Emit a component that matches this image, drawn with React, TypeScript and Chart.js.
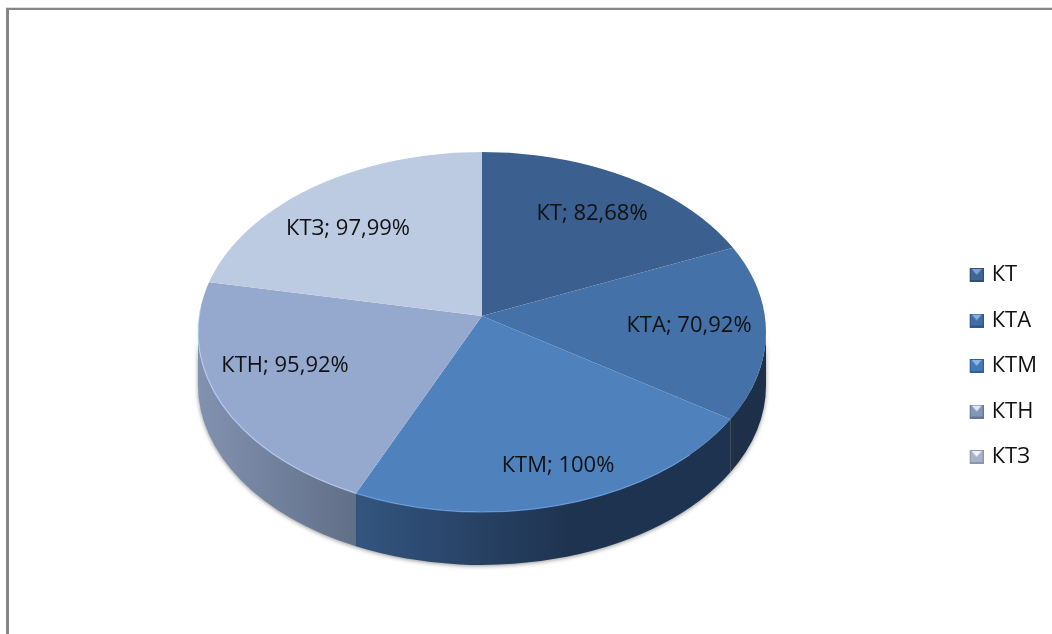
import React, { useEffect, useRef } from "react";
import { Chart, registerables } from "chart.js";

Chart.register(...registerables);

const categories = ["КТ", "КТА", "КТМ", "КТН", "КТЗ"];
const seriesValues = [82.68, 70.92, 100, 95.92, 97.99];
const valueText = ["82,68%", "70,92%", "100%", "95,92%", "97,99%"];
const sliceColors = ["#3b5f8e", "#4472a8", "#4f81bd", "#95a9cf", "#bccae2"];
const markerColors = [
  ["#2f4e78", "#3f6594", "#7ea3d2"],
  ["#2f5688", "#3f6da4", "#86aede"],
  ["#30609c", "#4478b6", "#8ab6ea"],
  ["#667796", "#8496b8", "#dfe7f5"],
  ["#8b96ab", "#a7b3c9", "#eef2f9"],
];
const labelCenters = [
  [592, 214],
  [689, 326],
  [558, 466],
  [285, 366],
  [348, 229],
];

const FONT = '"Open Sans", sans-serif';
const APEX_X = 482;
const APEX_Y = 316;
const RAY_RY = 178;
const RX = 284;
const RY = 180;
const CY = 332;
const WALL = 53;

function makeMarker(c: string[]) {
  const cv = document.createElement("canvas");
  cv.width = 19;
  cv.height = 14;
  const g = cv.getContext("2d")!;
  g.translate(5, 0);
  g.fillStyle = c[0];
  g.fillRect(0, 0, 14, 14);
  g.fillStyle = c[1];
  g.fillRect(1, 1, 12, 11);
  g.fillStyle = c[2];
  g.beginPath();
  g.moveTo(2, 1);
  g.lineTo(12, 1);
  g.lineTo(7, 7);
  g.closePath();
  g.fill();
  return cv;
}

// Where a ray leaving the apex at a chart angle meets the tilted rim; returns the ellipse parameter.
function rimParam(angle: number) {
  const ax = Math.cos(angle) * RX;
  const ay = Math.sin(angle) * RAY_RY;
  const ox = 0;
  const oy = APEX_Y - CY;
  const A = (ax * ax) / (RX * RX) + (ay * ay) / (RY * RY);
  const B = 2 * ((ox * ax) / (RX * RX) + (oy * ay) / (RY * RY));
  const C = (ox * ox) / (RX * RX) + (oy * oy) / (RY * RY) - 1;
  const s = (-B + Math.sqrt(B * B - 4 * A * C)) / (2 * A);
  return Math.atan2((oy + ay * s) / RY, (ox + ax * s) / RX);
}

const piePlugin = {
  id: "tiltedPie",
  beforeDraw(chart: any) {
    const { ctx } = chart;
    ctx.save();
    ctx.fillStyle = "#ffffff";
    ctx.fillRect(0, 0, chart.width, chart.height);
    ctx.fillStyle = "#dedede";
    ctx.fillRect(6, 7, chart.width - 6, 1);
    ctx.fillStyle = "#868686";
    ctx.fillRect(6, 8, chart.width - 6, 2);
    ctx.fillRect(6, 8, 3, chart.height - 8);
    ctx.restore();
  },
  beforeDatasetsDraw(chart: any) {
    const { ctx } = chart;
    const arcs = chart.getDatasetMeta(0).data;

    const wallFill = (i: number) => {
      if (i === 3) {
        const g = ctx.createLinearGradient(198, 0, 358, 0);
        g.addColorStop(0, "#8192b0");
        g.addColorStop(1, "#616e87");
        return g;
      }
      if (i === 2) {
        const g = ctx.createLinearGradient(358, 0, 570, 0);
        g.addColorStop(0, "#33557f");
        g.addColorStop(1, "#1e3350");
        return g;
      }
      return "#1e3049";
    };

    arcs.forEach((arc: any, i: number) => {
      let t0 = rimParam(arc.startAngle);
      let t1 = rimParam(arc.endAngle);
      if (t1 < t0) t1 += Math.PI * 2;
      const a = Math.max(t0, 0);
      const b = Math.min(t1, Math.PI);
      const wrapped = t0 < -Math.PI / 2 && t1 > Math.PI;
      if (b <= a || wrapped) return;
      ctx.save();
      ctx.shadowColor = "rgba(60,60,60,0.55)";
      ctx.shadowBlur = 4;
      ctx.shadowOffsetY = 1;
      ctx.fillStyle = wallFill(i);
      ctx.beginPath();
      ctx.ellipse(APEX_X, CY, RX, RY, 0, a, b);
      ctx.ellipse(APEX_X, CY + WALL, RX, RY, 0, b, a, true);
      ctx.closePath();
      ctx.fill();
      ctx.restore();
    });

    ctx.save();
    ctx.beginPath();
    ctx.ellipse(APEX_X, CY, RX, RY, 0, 0, Math.PI * 2);
    ctx.clip();
    arcs.forEach((arc: any) => {
      ctx.save();
      const k = 1.3 / arc.outerRadius;
      ctx.translate(APEX_X, APEX_Y);
      ctx.scale(RX * k, RAY_RY * k);
      ctx.translate(-arc.x, -arc.y);
      arc.draw(ctx);
      ctx.restore();
    });
    ctx.restore();

    // Light rim along the front edge of the top face.
    ctx.save();
    ctx.lineWidth = 1.2;
    ctx.strokeStyle = "rgba(190,215,250,0.7)";
    ctx.beginPath();
    ctx.ellipse(APEX_X, CY, RX, RY, 0, rimParam(arcs[2].endAngle), Math.PI + 0.12);
    ctx.stroke();
    ctx.strokeStyle = "rgba(110,160,225,0.8)";
    ctx.beginPath();
    ctx.ellipse(APEX_X, CY, RX, RY, 0, 0.75, rimParam(arcs[2].endAngle));
    ctx.stroke();
    ctx.restore();

    ctx.save();
    ctx.font = `22px ${FONT}`;
    ctx.fillStyle = "#111111";
    ctx.textAlign = "center";
    ctx.textBaseline = "middle";
    categories.forEach((name, i) => {
      ctx.fillText(`${name}; ${valueText[i]}`, labelCenters[i][0], labelCenters[i][1]);
    });
    ctx.restore();
    return false;
  },
};

export default function App() {
  const ref = useRef<HTMLCanvasElement>(null);
  useEffect(() => {
    const markers = markerColors.map(makeMarker);
    const chart = new Chart(ref.current!, {
      type: "pie",
      data: {
        labels: categories,
        datasets: [{ data: seriesValues, backgroundColor: sliceColors, borderWidth: 0 }],
      },
      options: {
        responsive: false,
        animation: false,
        events: [],
        layout: { padding: { top: 98, right: 5 } },
        plugins: {
          tooltip: { enabled: false },
          legend: {
            position: "right",
            labels: {
              usePointStyle: true,
              boxWidth: 13,
              boxHeight: 13,
              padding: 23.5,
              color: "#111111",
              font: { family: FONT, size: 22 },
              generateLabels(c: any) {
                return Chart.overrides.pie.plugins.legend.labels
                  .generateLabels(c)
                  .map((l: any, i: number) => ({ ...l, pointStyle: markers[i] }));
              },
            },
          },
        },
      } as any,
      plugins: [piePlugin as any],
    });
    return () => chart.destroy();
  }, []);
  return (
    <div style={{ position: "fixed", left: 0, top: 0, width: 1052, height: 634 }}>
      <canvas ref={ref} width={1052} height={634} style={{ display: "block" }} />
    </div>
  );
}
